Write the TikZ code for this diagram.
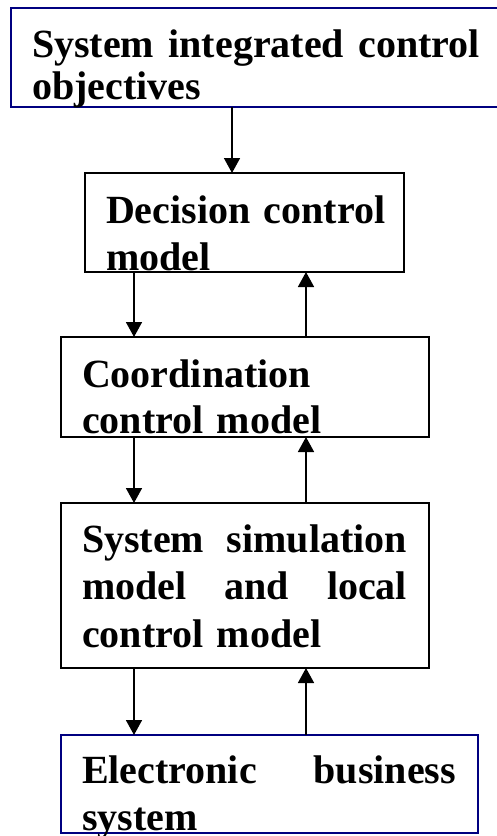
\documentclass[tikz,border=0pt]{standalone}
\usepackage{fontspec}
\setmainfont{Liberation Serif}
\usetikzlibrary{arrows.meta}
\definecolor{navyline}{RGB}{0,0,128}
\begin{document}
\begin{tikzpicture}[x=1pt,y=-1pt,
  box/.style={draw=black,line width=1.6pt,inner sep=0pt,outer sep=0pt,anchor=north west},
  bluebox/.style={box,draw=navyline},
  txt/.style={anchor=base west,inner sep=0pt,outer sep=0pt,align=left,font=\bfseries},
  arr/.style={line width=1.6pt,-{Triangle[width=16pt,length=15pt]}}]
\useasboundingbox (0,0) rectangle (497,836);
\fill[white] (0,0) rectangle (497,836);
% boxes
\node[bluebox,minimum width=494pt,minimum height=99pt] (top) at (11,8) {};
\node[box,minimum width=319pt,minimum height=99pt] (dec) at (85,173) {};
\node[box,minimum width=368pt,minimum height=100pt] (coo) at (61,337) {};
\node[box,minimum width=368pt,minimum height=165pt] (sim) at (61,503) {};
\node[bluebox,minimum width=417pt,minimum height=98pt] (ele) at (61,735) {};
% texts
\node[txt,text width=448pt,font=\bfseries\fontsize{40}{42}\selectfont] (ttop) at (32,57)
  {System\hfill integrated\hfill control\\objectives};
\node[txt,text width=300pt,font=\bfseries\fontsize{40}{47}\selectfont] (tdec) at (106,223)
  {Decision control\\model};
\node[txt,text width=330pt,font=\bfseries\fontsize{40}{46}\selectfont] (tcoo) at (82,387)
  {Coordination\\control model};
\node[txt,text width=325pt,font=\bfseries\fontsize{40}{47.5}\selectfont] (tsim) at (82,552)
  {System\hfill simulation\\model\hfill and\hfill local\\control model};
\node[txt,text width=374pt,font=\bfseries\fontsize{40}{47}\selectfont] (tele) at (82,783)
  {Electronic\hfill business\\system};
% connectors
\draw[arr] (top.south -| 232,0) -- (dec.north -| 232,0);
\draw[arr] (dec.south -| 134,0) -- (coo.north -| 134,0);
\draw[arr] (coo.north -| 306,0) -- (dec.south -| 306,0);
\draw[arr] (coo.south -| 134,0) -- (sim.north -| 134,0);
\draw[arr] (sim.north -| 306,0) -- (coo.south -| 306,0);
\draw[arr] (sim.south -| 134,0) -- (ele.north -| 134,0);
\draw[arr] (ele.north -| 306,0) -- (sim.south -| 306,0);
\end{tikzpicture}
\end{document}
